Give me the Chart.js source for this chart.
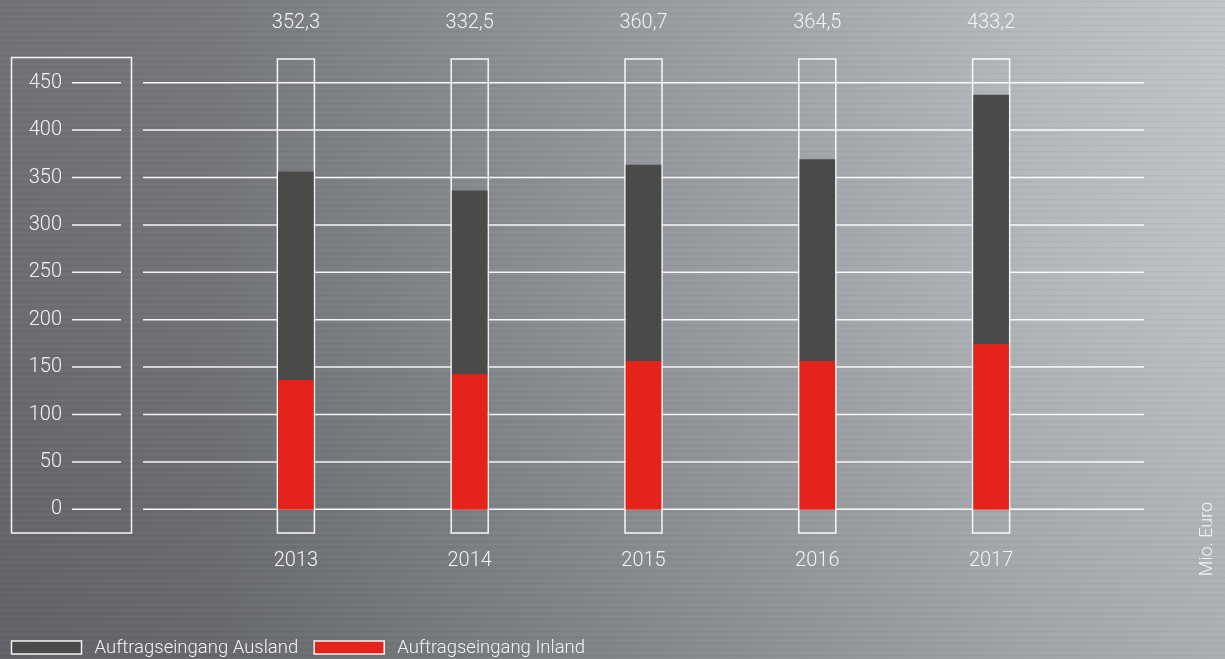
<!DOCTYPE html>
<html lang="de">
<head>
<meta charset="utf-8">
<title>Auftragseingang</title>
<script src="https://cdn.jsdelivr.net/npm/chart.js@4.4.1/dist/chart.umd.min.js"></script>
<style>
  html, body { margin: 0; padding: 0; }
  body {
    width: 1225px; height: 659px; overflow: hidden;
    background:
      repeating-linear-gradient(0deg, rgba(255,255,255,0.035) 0 1px, rgba(0,0,0,0) 1px 3px, rgba(0,0,0,0.035) 3px 4px, rgba(0,0,0,0) 4px 6px),
      linear-gradient(180deg, rgba(255,255,255,0.04) 0%, rgba(0,0,0,0) 40%, rgba(0,0,0,0.10) 100%),
      linear-gradient(90deg, #6b6d72 0%, #727479 18%, #86898e 40%, #9c9fa3 62%, #b3b6ba 84%, #bfc2c5 100%);
  }
  #wrap { position: relative; width: 1225px; height: 659px; }
</style>
</head>
<body>
<div id="wrap"><canvas id="chart" width="1225" height="659"></canvas></div>
<script>
// values (Mio. Euro)
const years = ['2013', '2014', '2015', '2016', '2017'];
const inland = [136, 142, 156, 156, 174];
const ausland = [220, 194, 207, 213, 263];
const totalLabels = ['352,3', '332,5', '360,7', '364,5', '433,2'];
const yTicks = [0, 50, 100, 150, 200, 250, 300, 350, 400, 450];
const unitLabel = 'Mio. Euro';

const FONT = "Roboto, 'Open Sans', sans-serif";
const TEXT = '#f3f3f3';
const LINE = 'rgba(255,255,255,0.93)';

Chart.defaults.font.family = FONT;
Chart.defaults.font.weight = 300;
Chart.defaults.color = TEXT;

// frames, grid, totals, legend and unit label around the stacked bars
const decor = {
  id: 'decor',
  beforeDatasetsDraw(chart) {
    const { ctx, chartArea: a, scales: { y } } = chart;
    ctx.save();
    ctx.strokeStyle = LINE;
    ctx.lineWidth = 1.5;

    // box round the value axis
    ctx.strokeRect(11.5, a.top - 1.5, 120, a.bottom - a.top + 1.5);

    // tick marks inside the box and the grid lines
    ctx.beginPath();
    yTicks.forEach((v) => {
      const py = y.getPixelForValue(v);
      ctx.moveTo(72, py); ctx.lineTo(121, py);
      ctx.moveTo(a.left - 66, py); ctx.lineTo(a.right + 66, py);
    });
    ctx.stroke();

    // empty frame behind every bar
    const bars = chart.getDatasetMeta(0).data;
    bars.forEach((bar) => ctx.strokeRect(bar.x - 18.5, a.top, 37, a.bottom - a.top));

    // totals above the frames
    ctx.fillStyle = TEXT;
    ctx.font = `300 20px ${FONT}`;
    ctx.textAlign = 'center';
    ctx.textBaseline = 'middle';
    bars.forEach((bar, i) => ctx.fillText(totalLabels[i], bar.x, 23));
    ctx.restore();
  },
  afterDraw(chart) {
    const { ctx } = chart;
    ctx.save();
    ctx.font = `300 18.5px ${FONT}`;
    ctx.textBaseline = 'middle';

    // legend, Ausland first
    let x = 11.5;
    [...chart.data.datasets].reverse().forEach((ds) => {
      ctx.fillStyle = ds.backgroundColor;
      ctx.fillRect(x, 641, 70, 13);
      ctx.strokeStyle = LINE;
      ctx.lineWidth = 1.5;
      ctx.strokeRect(x, 641, 70, 13);
      ctx.fillStyle = TEXT;
      ctx.textAlign = 'left';
      ctx.fillText(ds.label, x + 83, 648);
      x += 83 + ctx.measureText(ds.label).width + 16;
    });

    // unit, rotated at the right edge
    ctx.translate(1207, 539);
    ctx.rotate(-Math.PI / 2);
    ctx.textAlign = 'center';
    ctx.fillStyle = 'rgba(255,255,255,0.85)';
    ctx.font = `300 18px ${FONT}`;
    ctx.fillText(unitLabel, 0, 0);
    ctx.restore();
  },
};

new Chart(document.getElementById('chart'), {
  type: 'bar',
  data: {
    labels: years,
    datasets: [
      { label: 'Auftragseingang Inland', data: inland, backgroundColor: '#e5231a' },
      { label: 'Auftragseingang Ausland', data: ausland, backgroundColor: '#4a4a48' },
    ],
  },
  options: {
    responsive: false,
    animation: false,
    layout: { padding: { top: 59, right: 147, bottom: 0, left: 0 } },
    datasets: { bar: { barThickness: 35, borderWidth: 0 } },
    plugins: { legend: { display: false }, tooltip: { enabled: false } },
    scales: {
      x: {
        stacked: true,
        grid: { display: false, drawTicks: false },
        border: { display: false },
        ticks: { padding: 16, font: { size: 20, weight: 300 }, color: TEXT },
        afterFit: (s) => { s.height = 126; s.paddingLeft = 0; s.paddingRight = 0; },
      },
      y: {
        stacked: true,
        min: -25,
        max: 475,
        grid: { display: false, drawTicks: false },
        border: { display: false },
        ticks: { padding: 147, font: { size: 20, weight: 300 }, color: TEXT },
        afterBuildTicks: (s) => { s.ticks = yTicks.map((v) => ({ value: v })); },
        afterFit: (s) => { s.width = 209; s.paddingTop = 0; s.paddingBottom = 0; },
      },
    },
  },
  plugins: [decor],
});
</script>
</body>
</html>
